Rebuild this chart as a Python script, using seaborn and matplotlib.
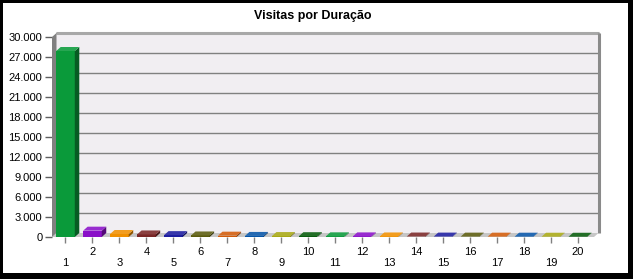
import matplotlib
matplotlib.use("Agg")
import matplotlib.pyplot as plt
import matplotlib.colors as mcolors
from matplotlib.patches import Polygon, Rectangle
from matplotlib.ticker import FuncFormatter, MultipleLocator
import seaborn as sns
import numpy as np

# ---- data ----
title = "Visitas por Duração"
categories = [str(i) for i in range(1, 21)]
values = [27900, 950, 450, 380, 280, 230, 200, 160, 140, 120,
          100, 90, 80, 70, 60, 55, 50, 45, 40, 35]
base_colors = ["#0A9A3A", "#8A0FC8", "#F09000", "#7A2626", "#1C1CA0",
               "#5A5A0C", "#D25A08", "#0655A8", "#A8A814", "#055A0A"]
colors = [base_colors[i % 10] for i in range(len(categories))]
y_max = 30000
y_step = 3000

sns.set_style("white")
plt.rcParams["font.family"] = ["Liberation Sans", "DejaVu Sans"]

W, H, DPI = 633, 279, 100
fig = plt.figure(figsize=(W / DPI, H / DPI), dpi=DPI)
fig.patch.set_facecolor("white")

# front plane of the axes in pixels
left_px, right_px, top_px, bottom_px = 52, 594, 37, 237
ax = fig.add_axes([left_px / W, 1 - bottom_px / H,
                   (right_px - left_px) / W, (bottom_px - top_px) / H])
ax.set_facecolor("none")

sns.barplot(x=categories, y=values, hue=categories, palette=colors,
            legend=False, width=0.69, saturation=1, ax=ax,
            edgecolor="none", linewidth=0, zorder=3)
bars = [p for p in ax.patches if p.get_zorder() == 3]

x0, x1 = -0.5, 19.6
ax.set_xlim(x0, x1)
ax.set_ylim(0, y_max)

# depth in data units
px_x = (right_px - left_px) / (x1 - x0)
px_y = (bottom_px - top_px) / y_max
dx = 4.5 / px_x
dy = 4 / px_y

def shade(c, f):
    r, g, b = mcolors.to_rgb(c)
    return (r * f, g * f, b * f)

def lighten(c, f):
    r, g, b = mcolors.to_rgb(c)
    return (r + (1 - r) * f, g + (1 - g) * f, b + (1 - b) * f)

# back wall
ax.add_patch(Rectangle((x0 + dx, dy), x1 - x0, y_max, facecolor="#F1EEF2",
                       edgecolor="none", zorder=0, clip_on=False))
# gridlines on the back wall
for v in np.arange(y_step, y_max + 1, y_step):
    ax.plot([x0 + dx, x1 + dx], [v + dy, v + dy], color="#808080", lw=1,
            zorder=0.5, clip_on=False, solid_capstyle="butt")
# top and right rims of the back wall
ax.plot([x0 + dx, x1 + dx], [y_max + dy, y_max + dy], color="#A8A8A8", lw=2.2,
        zorder=0.6, clip_on=False, solid_capstyle="butt")
ax.plot([x1 + dx, x1 + dx], [dy, y_max + dy], color="#8A8A8A", lw=2.2,
        zorder=0.6, clip_on=False, solid_capstyle="butt")
# floor
ax.add_patch(Polygon([(x0, 0), (x1, 0), (x1 + dx, dy), (x0 + dx, dy)],
                     closed=True, facecolor="#C6C6C6", edgecolor="none",
                     zorder=0.7, clip_on=False))
# left wall
ax.add_patch(Polygon([(x0, 0), (x0 + dx, dy), (x0 + dx, y_max + dy), (x0, y_max)],
                     closed=True, facecolor="#808080", edgecolor="none",
                     zorder=0.8, clip_on=False))

# 3D faces for each bar
for p, c in zip(bars, colors):
    x = p.get_x()
    w = p.get_width()
    h = p.get_height()
    top = Polygon([(x, h), (x + w, h), (x + w + dx, h + dy), (x + dx, h + dy)],
                  closed=True, facecolor=lighten(c, 0.12), edgecolor="none",
                  zorder=3.1, clip_on=False)
    side = Polygon([(x + w, 0), (x + w + dx, dy), (x + w + dx, h + dy), (x + w, h)],
                   closed=True, facecolor=shade(c, 0.6), edgecolor="none",
                   zorder=3.1, clip_on=False)
    ax.add_patch(side)
    ax.add_patch(top)

# axes styling
for s in ax.spines.values():
    s.set_visible(False)
ax.yaxis.set_major_locator(MultipleLocator(y_step))
ax.yaxis.set_major_formatter(FuncFormatter(lambda v, pos: f"{int(v):,}".replace(",", ".")))
ax.tick_params(axis="y", left=True, length=5, width=1, color="#606060",
               pad=2, labelsize=8, labelcolor="black")
ax.set_xticks(range(len(categories)))
ax.set_xticklabels([c if i % 2 == 1 else "\n" + c for i, c in enumerate(categories)])
ax.tick_params(axis="x", bottom=True, length=4, width=1, color="#808080",
               pad=3, labelsize=8, labelcolor="black")
ax.set_xlabel("")
ax.set_ylabel("")

fig.text(313 / W, 1 - 16 / H, title, ha="center", va="center",
         fontsize=9, fontweight="bold", color="black")

# figure frame
fig.patches.append(Rectangle((0, 0), 1, 1, transform=fig.transFigure, fill=False,
                             edgecolor="black", lw=3.6, zorder=10))
fig.patches.append(Rectangle((1 - 5 / W, 0), 5 / W, 1, transform=fig.transFigure,
                             facecolor="black", edgecolor="none", zorder=10))
fig.patches.append(Rectangle((0, 0), 1, 6 / H, transform=fig.transFigure,
                             facecolor="black", edgecolor="none", zorder=10))

fig.savefig("out.png", dpi=DPI)
